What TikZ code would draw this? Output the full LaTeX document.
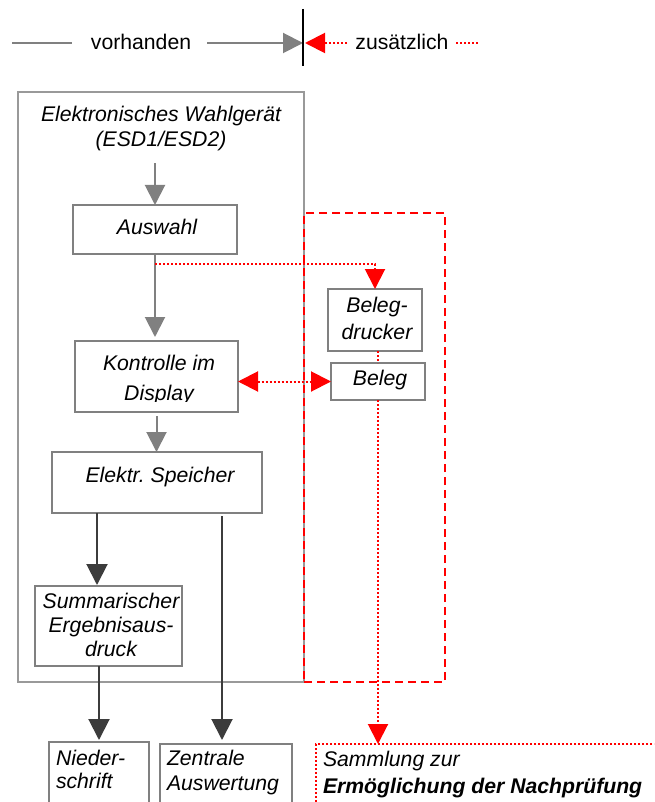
\documentclass[tikz,border=0pt]{standalone}
\usepackage{fontspec}
\setmainfont{Liberation Sans}
\usetikzlibrary{arrows.meta,calc}
\definecolor{bgray}{HTML}{808080}
\definecolor{ogray}{HTML}{999999}
\definecolor{dgray}{HTML}{3C3C3C}
\definecolor{rred}{HTML}{FF0000}
\tikzset{
 gbox/.style={draw=bgray, line width=2pt, inner sep=0pt, outer sep=0pt, anchor=north west},
 obox/.style={draw=ogray, line width=1.6pt, inner sep=0pt, outer sep=0pt, anchor=north west},
 txt/.style={inner sep=0pt, outer sep=0pt, font=\fontsize{21.2}{24}\selectfont\itshape, anchor=base},
 legtxt/.style={inner sep=0pt, outer sep=0pt, font=\fontsize{21.2}{24}\selectfont, anchor=base},
 gline/.style={draw=bgray, line width=2pt},
 garr/.style={gline, -{Triangle[length=20pt,width=20pt]}},
 darr/.style={draw=dgray, line width=2pt, -{Triangle[length=21pt,width=21pt]}},
 rdot/.style={draw=rred, line width=2pt, dash pattern=on 2pt off 2pt},
 rarr/.style={rdot, -{Triangle[length=20pt,width=20pt]}},
 rdarr/.style={rdot, {Triangle[length=20pt,width=20pt]}-{Triangle[length=20pt,width=20pt]}},
 rdash/.style={draw=rred, line width=2pt, dash pattern=on 8pt off 5pt},
}
\begin{document}
\begin{tikzpicture}[x=1pt,y=-1pt]
\useasboundingbox (0,0) rectangle (654,802);
\clip (0,0) rectangle (654,802);
\fill[white] (0,0) rectangle (654,802);

% ---------- legend ----------
\coordinate (l1a) at (12,43);
\coordinate (l1b) at (72,43);
\node[legtxt] (vor) at (141,50) {vorhanden};
\coordinate (l2a) at (207,43);
\coordinate (l2b) at (303,43);
\coordinate (septop) at (303,9);
\coordinate (sepbot) at (303,66);
\coordinate (r1a) at (347,43);
\coordinate (r1b) at (305,43);
\node[legtxt] (zus) at (402,50) {zusätzlich};
\coordinate (r2a) at (456,43);
\coordinate (r2b) at (478,43);
\draw[gline] (l1a) -- (l1b);
\draw[garr] (l2a) -- (l2b);
\draw[black, line width=2pt] (septop) -- (sepbot);
\draw[rarr] (r1a) -- (r1b);
\draw[rdot] (r2a) -- (r2b);

% ---------- boxes ----------
\node[obox, minimum width=286pt, minimum height=590pt] (outer) at (18,92) {};
\node[gbox, minimum width=164pt, minimum height=49pt] (aus) at (73,205) {};
\node[gbox, minimum width=163pt, minimum height=71pt] (kon) at (75,341) {};
\node[gbox, minimum width=210pt, minimum height=61pt] (spe) at (52,452) {};
\node[gbox, minimum width=147pt, minimum height=80pt] (sum) at (35,586) {};
\node[gbox, minimum width=100pt, minimum height=90pt] (nie) at (49,742) {};
\node[gbox, minimum width=132pt, minimum height=90pt] (zen) at (160,744) {};
\node[gbox, minimum width=94pt, minimum height=62pt] (bdr) at (328,289) {};
\node[gbox, minimum width=94pt, minimum height=37pt] (bel) at (331,363) {};
\node[rdot, inner sep=0pt, outer sep=0pt, anchor=north west, minimum width=400pt, minimum height=100pt] (sam) at (316,744) {};
\node[rdash, inner sep=0pt, outer sep=0pt, anchor=north west, minimum width=141pt, minimum height=469pt] (zbox) at (304,213) {};

% ---------- texts (anchor base = last line) ----------
\node[txt, align=center, font=\fontsize{21.2}{25}\selectfont\itshape] (esd) at (161,147) {Elektronisches Wahlgerät\\(ESD1/ESD2)};
\node[txt] (aust) at (157,234) {Auswahl};
\begin{scope}
\clip (75,341) rectangle (238,401);
\node[txt, align=center, font=\fontsize{21.2}{30}\selectfont\itshape] (kont) at (159,400) {Kontrolle im\\Display};
\end{scope}
\node[txt] (spet) at (160,482) {Elektr.\ Speicher};
\node[txt, align=center] (sumt) at (111,656) {Summarischer\\Ergebnisaus-\\druck};
\node[txt, align=left, anchor=base west, font=\fontsize{21.2}{23}\selectfont\itshape] (niet) at (56,788) {Nieder-\\schrift};
\node[txt, align=left, anchor=base west, font=\fontsize{21.2}{25}\selectfont\itshape] (zent) at (167,790) {Zentrale\\Auswertung};
\node[txt, align=center, font=\fontsize{21.2}{27}\selectfont\itshape] (bdrt) at (377,339) {Beleg-\\drucker};
\node[txt] (belt) at (380,385) {Beleg};
\node[txt, align=left, anchor=base west, font=\fontsize{21.2}{27}\selectfont\itshape] (samt) at (323,793) {Sammlung zur\\\textbf{Ermöglichung der Nachprüfung}};

% ---------- connectors ----------
\draw[garr] ([yshift=-12pt]esd.south -| aus.north) -- (aus.north);
\draw[garr, shorten >=4pt] (aus.south) -- (aus.south |- kon.north);
\draw[garr, shorten <=4pt] (kon.south) -- (kon.south |- spe.north);
\draw[darr, shorten >=1pt] ([xshift=45pt]spe.south west) -- ([xshift=45pt]spe.south west |- sum.north);
\draw[darr, shorten <=3pt, shorten >=4pt] ([xshift=170pt]spe.south west) -- ([xshift=170pt]spe.south west |- zen.north);
\draw[darr, shorten >=2pt] ([xshift=64pt]sum.south west) -- ([xshift=64pt]sum.south west |- nie.north);

\coordinate (br) at ($(aus.south)+(0,10)$);
\draw[rarr] (br) -| (bdr.north);
\draw[rdarr] (kon.east |- bel.west) -- (bel.west);
\draw[rdot] (bel.north |- bdr.south) -- (bel.north);
\draw[rarr] (bel.south) -- (bel.south |- sam.north);
\end{tikzpicture}
\end{document}
